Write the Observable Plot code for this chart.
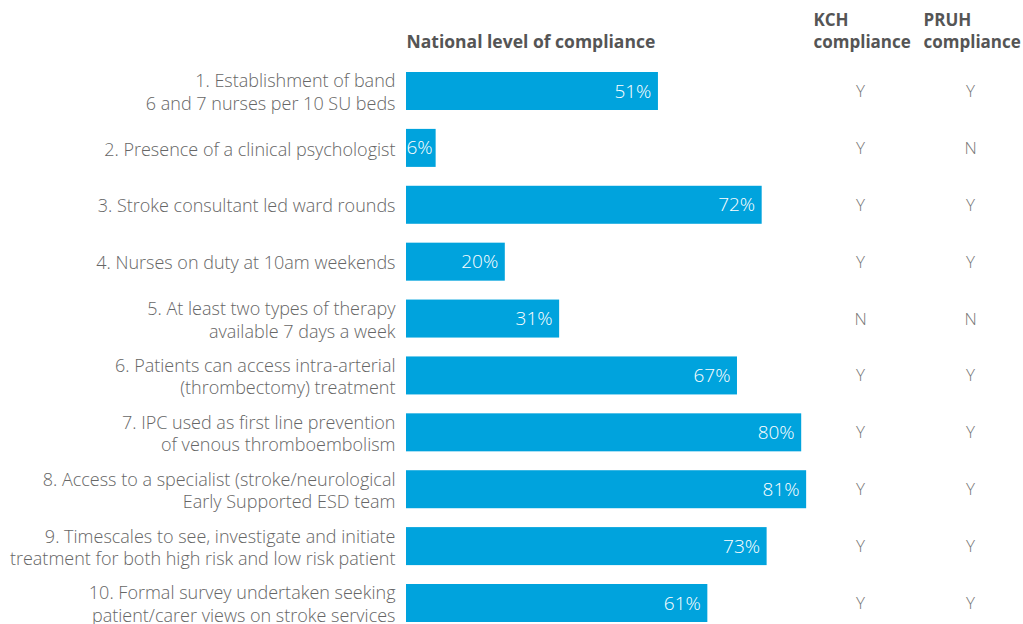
<!DOCTYPE html>
<html>
<head>
<meta charset="utf-8">
<script src="https://cdn.jsdelivr.net/npm/d3@7"></script>
<script src="https://cdn.jsdelivr.net/npm/@observablehq/plot@0.6"></script>
<style>
  html, body { margin: 0; padding: 0; background: #fff; }
  #chart svg { display: block; }
</style>
</head>
<body>
<div id="chart"></div>
<script>
const labels = [
  "1. Establishment of band\n6 and 7 nurses per 10 SU beds",
  "2. Presence of a clinical psychologist",
  "3. Stroke consultant led ward rounds",
  "4. Nurses on duty at 10am weekends",
  "5. At least two types of therapy\navailable 7 days a week",
  "6. Patients can access intra-arterial\n(thrombectomy) treatment",
  "7. IPC used as first line prevention\nof venous thromboembolism",
  "8. Access to a specialist (stroke/neurological\nEarly Supported ESD team",
  "9. Timescales to see, investigate and initiate\ntreatment for both high risk and low risk patient",
  "10. Formal survey undertaken seeking\npatient/carer views on stroke services"
];
const national = [51, 6, 72, 20, 31, 67, 80, 81, 73, 61];
const kch = ["Y", "Y", "Y", "Y", "N", "Y", "Y", "Y", "Y", "Y"];
const pruh = ["Y", "N", "Y", "Y", "N", "Y", "Y", "Y", "Y", "Y"];
const headers = ["National level of compliance", "KCH\ncompliance", "PRUH\ncompliance"];

const rows = labels.map((label, i) => ({label, value: national[i], kch: kch[i], pruh: pruh[i]}));
const wide = rows.filter(d => d.value >= 10);
const narrow = rows.filter(d => d.value < 10);

const font = "'Open Sans', sans-serif";
const chart = Plot.plot({
  width: 1023,
  height: 624,
  marginLeft: 406,
  marginRight: 123,
  marginTop: 72,
  marginBottom: 2,
  style: {fontFamily: font, background: "#fff"},
  x: {domain: [0, 100], axis: null},
  y: {domain: labels, paddingInner: 0.332, paddingOuter: 0, round: false, label: null},
  marks: [
    Plot.barX(rows, {x: "value", y: "label", fill: "#00a3dd"}),
    Plot.text(wide, {x: "value", y: "label", text: d => d.value + "%", textAnchor: "end", dx: -7, fill: "#fff", fontSize: 19, fontWeight: 300}),
    Plot.text(narrow, {x: 0, y: "label", text: d => d.value + "%", textAnchor: "start", dx: 0, fill: "#fff", fontSize: 19, fontWeight: 300}),
    Plot.axisY({tickSize: 0, tickPadding: 11, fontSize: 18, fill: "#666", fontWeight: 300, lineHeight: 1.25, label: null}),
    Plot.text(rows, {y: "label", text: "kch", frameAnchor: "right", dx: -40, textAnchor: "middle", fill: "#777", fontSize: 17, fontWeight: 300}),
    Plot.text(rows, {y: "label", text: "pruh", frameAnchor: "right", dx: 70, textAnchor: "middle", fill: "#777", fontSize: 17, fontWeight: 300}),
    Plot.text([headers[0]], {x: 0, frameAnchor: "top", textAnchor: "start", lineAnchor: "bottom", dy: -25, fill: "#555", fontSize: 17.5, fontWeight: "bold"}),
    Plot.text([headers[1]], {frameAnchor: "top-right", textAnchor: "start", lineAnchor: "bottom", dx: -87, dy: -25, fill: "#555", fontSize: 17, fontWeight: "bold", lineHeight: 1.27}),
    Plot.text([headers[2]], {frameAnchor: "top-right", textAnchor: "start", lineAnchor: "bottom", dx: 23, dy: -25, fill: "#555", fontSize: 17, fontWeight: "bold", lineHeight: 1.27})
  ]
});
document.getElementById("chart").appendChild(chart);
</script>
</body>
</html>
